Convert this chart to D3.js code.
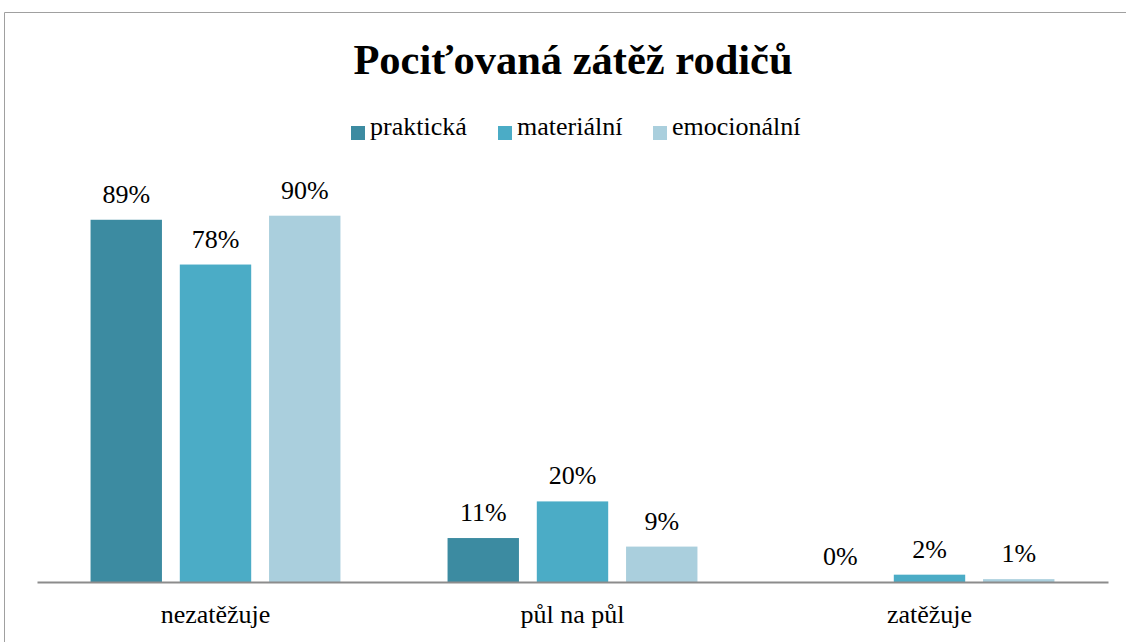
<!DOCTYPE html>
<html>
<head>
<meta charset="utf-8">
<script src="https://cdn.jsdelivr.net/npm/d3@7"></script>
<style>
  body { margin: 0; background: #fff; }
</style>
</head>
<body>
<div id="chart"></div>
<script>
// ---------- data ----------
const categories = ["nezatěžuje", "půl na půl", "zatěžuje"];
const seriesNames = ["praktická", "materiální", "emocionální"];
const prakticka = [0.89, 0.108, 0.0];
const materialni = [0.78, 0.198, 0.018];
const emocionalni = [0.90, 0.087, 0.007];
const seriesColors = ["#3c8ba1", "#4bacc6", "#aacfdd"];

const WIDTH = 1126;
const HEIGHT = 642;
const FONT = "'Liberation Serif', 'Times New Roman', serif";

const svg = d3.select("#chart")
    .append("svg")
    .attr("width", WIDTH)
    .attr("height", HEIGHT)
    .attr("font-family", FONT);

// outer frame (right/bottom edges fall outside the picture)
svg.append("path")
    .attr("d", `M4.5,${HEIGHT + 5} V12.5 H${WIDTH + 5}`)
    .attr("fill", "none")
    .attr("stroke", "#a0a0a0")
    .attr("stroke-width", 1);

// title
svg.append("text")
    .attr("x", 573)
    .attr("y", 74)
    .attr("text-anchor", "middle")
    .attr("font-size", 42.5)
    .attr("font-weight", "bold")
    .text("Pociťovaná zátěž rodičů");

// scales
const margin = { left: 37, right: 18, top: 175, bottom: 60 };
const x0 = d3.scaleBand()
    .domain(categories)
    .range([margin.left, WIDTH - margin.right]);

const x1 = d3.scaleBand()
    .domain(seriesNames)
    .range([0, x0.bandwidth()])
    .paddingInner(0.2)
    .paddingOuter(0.6);

const y = d3.scaleLinear()
    .domain([0, 1])
    .range([HEIGHT - margin.bottom, margin.top]);

const color = d3.scaleOrdinal(seriesNames, seriesColors);

// rows for the grouped bars
const seriesValues = [prakticka, materialni, emocionalni];
const rows = categories.map((c, i) => ({
    category: c,
    values: seriesNames.map((s, j) => ({ series: s, value: seriesValues[j][i] }))
}));

const groups = svg.append("g")
    .selectAll("g")
    .data(rows)
    .join("g")
    .attr("transform", d => `translate(${x0(d.category)},0)`);

groups.selectAll("rect")
    .data(d => d.values)
    .join("rect")
    .attr("x", d => x1(d.series))
    .attr("y", d => y(d.value))
    .attr("width", x1.bandwidth())
    .attr("height", d => y(0) - y(d.value))
    .attr("fill", d => color(d.series));

// value labels
const fmt = d3.format(".0%");
groups.selectAll("text")
    .data(d => d.values)
    .join("text")
    .attr("x", d => x1(d.series) + x1.bandwidth() / 2)
    .attr("y", d => y(d.value) - 17)
    .attr("text-anchor", "middle")
    .attr("font-size", 26)
    .text(d => fmt(d.value));

// x axis
const xAxis = svg.append("g")
    .attr("transform", `translate(0,${y(0)})`)
    .call(d3.axisBottom(x0).tickSize(0))
    .attr("font-family", FONT)
    .attr("font-size", 26);
xAxis.select(".domain")
    .attr("stroke", "#8c8c8c")
    .attr("stroke-width", 2);
xAxis.selectAll("text")
    .attr("dy", null)
    .attr("y", 41)
    .attr("fill", "#000");

// legend
const legendX = [351, 498, 653];
const legend = svg.append("g")
    .attr("font-size", 26)
    .selectAll("g")
    .data(seriesNames)
    .join("g")
    .attr("transform", (d, i) => `translate(${legendX[i]},126)`);
legend.append("rect")
    .attr("width", 14)
    .attr("height", 14)
    .attr("fill", d => color(d));
legend.append("text")
    .attr("x", 19)
    .attr("y", 9)
    .text(d => d);
</script>
</body>
</html>
